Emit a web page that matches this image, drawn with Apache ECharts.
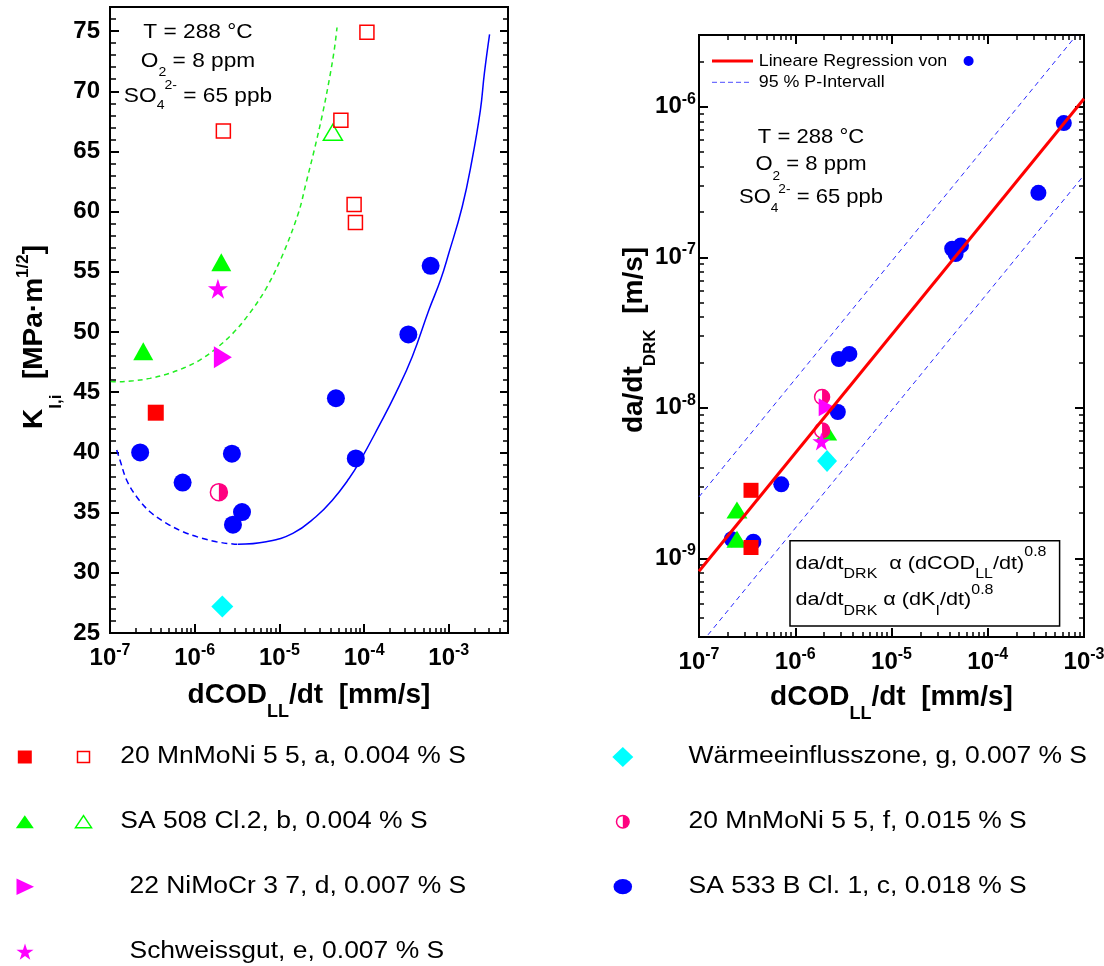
<!DOCTYPE html>
<html><head><meta charset="utf-8">
<script src="https://cdn.jsdelivr.net/npm/echarts@6/dist/echarts.min.js"></script>
<style>html,body{margin:0;padding:0;background:#fff;}#chart{width:1104px;height:966px;}</style>
</head><body><div id="chart"></div>
<script>
// ================= DATA =================
const nameA = '20 MnMoNi 5 5, a, 0.004 % S';
const nameB = 'SA 508 Cl.2, b, 0.004 % S';
const nameD = '22 NiMoCr 3 7, d, 0.007 % S';
const nameE = 'Schweissgut, e, 0.007 % S';
const nameG = 'Wärmeeinflusszone, g, 0.007 % S';
const nameF = '20 MnMoNi 5 5, f, 0.015 % S';
const nameC = 'SA 533 B Cl. 1, c, 0.018 % S';

// Left plot: [dCOD_LL/dt (mm/s), K_I,i (MPa·m^1/2)]
const kiA_filled = [[3.47e-7, 43.3]];
const kiA_open = [[2.18e-6, 66.7], [5.32e-5, 67.6], [7.62e-5, 60.6], [7.9e-5, 59.1], [1.08e-4, 74.9]];
const kiB_filled = [[2.47e-7, 48.4], [2.06e-6, 55.8]];
const kiB_open = [[4.28e-5, 66.6]];
const kiC = [[2.27e-7, 40.0], [7.2e-7, 37.5], [2.75e-6, 39.9], [2.83e-6, 34.0], [3.62e-6, 35.05],
             [4.65e-5, 44.5], [7.98e-5, 39.5], [3.33e-4, 49.8], [6.1e-4, 55.5]];
const kiD = [[2.15e-6, 47.9]];
const kiE = [[1.88e-6, 53.6]];
const kiF = [[1.93e-6, 36.7]];
const kiG = [[2.12e-6, 27.2]];
const curveUpper = [[1.02e-7, 45.9], [1.2e-7, 45.87], [1.88e-7, 45.95], [2.96e-7, 46.15], [4.65e-7, 46.5],
  [7.28e-7, 46.99], [1.15e-6, 47.67], [1.8e-6, 48.65], [2.82e-6, 49.89], [4.44e-6, 51.55], [6.98e-6, 53.63],
  [1.09e-5, 56.4], [1.68e-5, 59.9], [2.06e-5, 62.35], [2.58e-5, 65.12], [3.24e-5, 68.16], [3.87e-5, 70.93],
  [4.44e-5, 73.42], [4.79e-5, 75.3]];
const curveLowerDashed = [[1.2e-7, 40.2], [1.31e-7, 39.37], [1.57e-7, 37.71], [2.06e-7, 36.32], [2.96e-7, 35.07],
  [4.65e-7, 34.11], [7.28e-7, 33.41], [1.15e-6, 32.92], [1.8e-6, 32.58], [2.82e-6, 32.39], [3.24e-6, 32.37]];
const curveLowerSolid = [[3.24e-6, 32.37], [6.98e-6, 32.58], [1.44e-5, 33.28], [2.7e-5, 34.66], [4.24e-5, 36.05],
  [6.67e-5, 37.85], [8.73e-5, 39.15], [1.5e-4, 42.2], [2.36e-4, 44.9], [3.7e-4, 47.95], [5.82e-4, 51.83],
  [7.98e-4, 54.32], [1e-3, 56.54], [1.44e-3, 60.41], [1.88e-3, 64.29], [2.36e-3, 68.44], [2.63e-3, 71.49],
  [3.03e-3, 74.73]];

// Right plot: [dCOD_LL/dt (mm/s), da/dt_DRK (m/s)]
const daA = [[3.47e-7, 2.83e-9], [3.47e-7, 1.18e-9]];
const daB = [[2.48e-7, 2.09e-9], [2.48e-7, 1.34e-9], [2.12e-6, 6.9e-9]];
const daC = [[2.19e-7, 1.34e-9], [3.67e-7, 1.29e-9], [7.16e-7, 3.1e-9], [2.77e-6, 9.38e-9], [2.84e-6, 2.11e-8],
  [3.65e-6, 2.28e-8], [4.27e-5, 1.14e-7], [4.64e-5, 1.05e-7], [5.27e-5, 1.2e-7], [3.36e-4, 2.68e-7], [6.17e-4, 7.8e-7]];
const daD = [[2.12e-6, 1.01e-8]];
const daE = [[1.87e-6, 5.98e-9]];
const daF = [[1.9e-6, 1.18e-8], [1.9e-6, 7.08e-9]];
const daG = [[2.14e-6, 4.44e-9]];
const regression = [[1e-7, 8.2e-10], [1e-3, 1.13e-6]];
const piUpper = [[1e-7, 2.56e-9], [8.1e-4, 2.92e-6]];
const piLower = [[1.24e-7, 3.1e-10], [9.8e-4, 3.46e-7]];

// Axis ranges and tick labels
const leftXRange = [1e-7, 5e-3];
const leftYRange = [25, 77];
const rightXRange = [1e-7, 1e-3];
const rightYRange = [3e-10, 3e-6];
const leftXExp = [-7, -6, -5, -4, -3];
const leftYTicks = [25, 30, 35, 40, 45, 50, 55, 60, 65, 70, 75];
const rightXExp = [-7, -6, -5, -4, -3];
const rightYExp = [-9, -8, -7, -6];

// ================= BUILD =================
const LOG = Math.log10;
const FF = 'Liberation Sans, Arial, Helvetica, sans-serif';
const toL = a => a.map(p => [LOG(p[0]), p[1]]);
const toLL = a => a.map(p => [LOG(p[0]), LOG(p[1])]);
function minorLog(lo, hi) {
  const out = [];
  for (let e = Math.floor(lo) - 1; e <= Math.ceil(hi); e++) {
    for (let k = 2; k <= 9; k++) { const v = LOG(k) + e; if (v > lo + 1e-6 && v < hi - 1e-6) out.push(v); }
  }
  return out;
}
const lxr = leftXRange.map(LOG), rxr = rightXRange.map(LOG), ryr = rightYRange.map(LOG);
const leftYMinor = []; for (let v = leftYRange[0] + 1; v < leftYRange[1]; v++) if (v % 5 !== 0) leftYMinor.push(v);

const RED = '#ff0000', GREEN = '#00ff00', MAG = '#ff00ff', PINK = '#ff0080', CYAN = '#00ffff', BLUE = '#0000ff';

const powRich = {
  b: {fontSize: 24, fontWeight: 'bold', fontFamily: FF, color: '#000', lineHeight: 26},
  s: {fontSize: 16, fontWeight: 'bold', fontFamily: FF, color: '#000', lineHeight: 16, padding: [0, 0, 15, 0]}
};
const powFmt = v => '{b|10}{s|' + Math.round(v) + '}';

function majT(vals, len) { return {show: true, inside: true, length: len || 9, customValues: vals, lineStyle: {color: '#000', width: 2}}; }
function minT(vals, len) { return {show: true, inside: true, length: len || 5, customValues: vals, lineStyle: {color: '#000', width: 1.5}}; }
function ax(extra) {
  return Object.assign({
    type: 'value', splitLine: {show: false},
    axisLine: {show: false, onZero: false},
    axisLabel: {show: false}, axisTick: {show: false}, nameMoveOverlap: false
  }, extra);
}
const lineOn = {show: true, onZero: false, lineStyle: {color: '#000', width: 2}};

const titleRichX = {
  m: {fontSize: 28, fontWeight: 'bold', fontFamily: FF, color: '#000', lineHeight: 30},
  sb: {fontSize: 18, fontWeight: 'bold', fontFamily: FF, color: '#000', lineHeight: 18, padding: [34, 0, 0, 0]}
};

const xAxis = [
  // left grid
  ax({gridIndex: 0, position: 'bottom', min: lxr[0], max: lxr[1], axisLine: lineOn,
      axisTick: majT(leftXExp.slice(), 9),
      axisLabel: {show: true, customValues: leftXExp.slice(), formatter: powFmt, rich: powRich, margin: 12},
      name: '{m|dCOD}{sb|LL}{m|/dt  [mm/s]}', nameLocation: 'middle', nameGap: 47,
      nameTextStyle: {rich: titleRichX}}),
  ax({gridIndex: 0, position: 'bottom', min: lxr[0], max: lxr[1], axisTick: minT(minorLog(lxr[0], lxr[1]), 5)}),
  // right grid
  ax({gridIndex: 1, position: 'bottom', min: rxr[0], max: rxr[1], axisLine: lineOn,
      axisTick: majT(rightXExp.slice(), 9),
      axisLabel: {show: true, customValues: rightXExp.slice(), formatter: powFmt, rich: powRich, margin: 12},
      name: '{m|dCOD}{sb|LL}{m|/dt  [mm/s]}', nameLocation: 'middle', nameGap: 45,
      nameTextStyle: {rich: titleRichX}}),
  ax({gridIndex: 1, position: 'bottom', min: rxr[0], max: rxr[1], axisTick: minT(minorLog(rxr[0], rxr[1]), 5)}),
  ax({gridIndex: 1, position: 'top', min: rxr[0], max: rxr[1], axisTick: majT(rightXExp.slice(), 9)}),
  ax({gridIndex: 1, position: 'top', min: rxr[0], max: rxr[1], axisTick: minT(minorLog(rxr[0], rxr[1]), 5)})
];

const yAxis = [
  // left grid
  ax({gridIndex: 0, position: 'left', min: leftYRange[0], max: leftYRange[1], axisLine: lineOn,
      axisTick: majT(leftYTicks.slice(), 9),
      axisLabel: {show: true, customValues: leftYTicks.slice(), margin: 10, fontSize: 24, fontWeight: 'bold', fontFamily: FF, color: '#000'},
      name: '{m|K}{sb|I,i}{m|  [MPa·m}{sp|1/2}{m|]}', nameLocation: 'middle', nameGap: 61, nameRotate: 90,
      nameTextStyle: {padding: [0, 34, 0, 0], rich: {
        m: {fontSize: 28, fontWeight: 'bold', fontFamily: FF, color: '#000', lineHeight: 30},
        sb: {fontSize: 17, fontWeight: 'bold', fontFamily: FF, color: '#000', lineHeight: 17, padding: [44, 0, 0, 0]},
        sp: {fontSize: 17, fontWeight: 'bold', fontFamily: FF, color: '#000', lineHeight: 17, padding: [0, 0, 21, 0]}
      }}}),
  ax({gridIndex: 0, position: 'left', min: leftYRange[0], max: leftYRange[1], axisTick: minT(leftYMinor, 6)}),
  ax({gridIndex: 0, position: 'right', min: leftYRange[0], max: leftYRange[1], axisTick: majT(leftYTicks.slice(), 8)}),
  ax({gridIndex: 0, position: 'right', min: leftYRange[0], max: leftYRange[1], axisTick: minT(leftYMinor, 5)}),
  // right grid
  ax({gridIndex: 1, position: 'left', min: ryr[0], max: ryr[1], axisLine: lineOn,
      axisTick: majT(rightYExp.slice(), 9),
      axisLabel: {show: true, customValues: rightYExp.slice(), formatter: powFmt, rich: powRich, margin: 3},
      name: '{m|da/dt}{sb|DRK}{m|  [m/s]}', nameLocation: 'middle', nameGap: 50, nameRotate: 90,
      nameTextStyle: {padding: [0, 8, 0, 0], rich: {
        m: {fontSize: 28, fontWeight: 'bold', fontFamily: FF, color: '#000', lineHeight: 30},
        sb: {fontSize: 17, fontWeight: 'bold', fontFamily: FF, color: '#000', lineHeight: 17, padding: [32, 0, 0, 0]}
      }}}),
  ax({gridIndex: 1, position: 'left', min: ryr[0], max: ryr[1], axisTick: minT(minorLog(ryr[0], ryr[1]), 5)}),
  ax({gridIndex: 1, position: 'right', min: ryr[0], max: ryr[1], axisTick: majT(rightYExp.slice(), 9)}),
  ax({gridIndex: 1, position: 'right', min: ryr[0], max: ryr[1], axisTick: minT(minorLog(ryr[0], ryr[1]), 5)})
];

const STAR = 'path://M50,0 L61.23,34.55 L97.55,34.55 L68.16,55.9 L79.39,90.45 L50,69.1 L20.61,90.45 L31.84,55.9 L2.45,34.55 L38.77,34.55 Z';
const HALF = 'path://M0,0 A10,10 0 0,1 0,20 Z';

function sc(name, data, xi, yi, symbol, size, itemStyle, extra) {
  return Object.assign({type: 'scatter', name, data, xAxisIndex: xi, yAxisIndex: yi, symbol, symbolSize: size,
    itemStyle: Object.assign({opacity: 1}, itemStyle), silent: true, z: 3, emphasis: {disabled: true}}, extra || {});
}
function ln(data, xi, yi, lineStyle, z, smooth) {
  return {type: 'line', data, xAxisIndex: xi, yAxisIndex: yi, symbol: 'none', showSymbol: false,
    smooth: smooth || false, lineStyle, silent: true, z: z, emphasis: {disabled: true}};
}
function markerSeries(xi, yi, conv, sets, s) {
  return [
    sc(nameC, conv(sets.C), xi, yi, 'circle', s.circle, {color: BLUE}),
    sc(nameB, conv(sets.B), xi, yi, 'triangle', s.tri, {color: GREEN}),
    sc(nameB + ' (open)', conv(sets.Bo), xi, yi, 'triangle', s.triO, {color: 'rgba(0,0,0,0)', borderColor: GREEN, borderWidth: 1.5}),
    sc(nameA, conv(sets.A), xi, yi, 'rect', s.sq, {color: RED}),
    sc(nameA + ' (open)', conv(sets.Ao), xi, yi, 'rect', s.sqO, {color: 'rgba(0,0,0,0)', borderColor: RED, borderWidth: 1.5}),
    sc(nameF, conv(sets.F), xi, yi, 'circle', s.half, {color: '#fff', borderColor: PINK, borderWidth: 1.5}),
    sc(nameF + ' (half)', conv(sets.F), xi, yi, HALF, [s.half / 2, s.half], {color: PINK}, {symbolOffset: [s.half / 4, 0]}),
    sc(nameD, conv(sets.D), xi, yi, 'triangle', s.rtri, {color: MAG}, {symbolRotate: -90}),
    sc(nameE, conv(sets.E), xi, yi, STAR, s.star, {color: MAG}),
    sc(nameG, conv(sets.G), xi, yi, 'diamond', s.dia, {color: CYAN})
  ];
}

const series = [
  ln(toL(curveUpper), 0, 0, {color: '#22ee22', width: 1.5, type: [5, 4]}, 2, 0.35),
  ln(toL(curveLowerDashed), 0, 0, {color: BLUE, width: 1.5, type: [6, 4]}, 2, 0.35),
  ln(toL(curveLowerSolid), 0, 0, {color: BLUE, width: 1.5}, 2, 0.45),
  ...markerSeries(0, 0, toL, {C: kiC, B: kiB_filled, Bo: kiB_open, A: kiA_filled, Ao: kiA_open, F: kiF, D: kiD, E: kiE, G: kiG},
    {circle: 18, tri: [20, 18], triO: [19, 16], sq: 16, sqO: 14, half: 17, rtri: [22, 18], star: 20, dia: 22}),
  ...markerSeries(2, 4, toLL, {C: daC, B: daB, Bo: [], A: daA, Ao: [], F: daF, D: daD, E: daE, G: daG},
    {circle: 16, tri: [21, 17], triO: [19, 16], sq: 15, sqO: 14, half: 15, rtri: [18, 16], star: 18, dia: [20, 22]}),
  ln(toLL(piUpper), 2, 4, {color: '#2a2aff', width: 1, type: [5, 4]}, 5),
  ln(toLL(piLower), 2, 4, {color: '#2a2aff', width: 1, type: [5, 4]}, 5),
  ln(toLL(regression), 2, 4, {color: RED, width: 3}, 6)
];

// ---------- graphic texts / legend ----------
function T(x, y, text, size, opts) {
  opts = opts || {};
  const al = opts.align || 'left';
  return {type: 'text', x, y, z: 100, scaleX: opts.sx || 1, silent: true,
    style: {text, x: 0, y: 0, fontSize: size, fontFamily: FF, fill: '#000', align: al, textAlign: al,
      verticalAlign: 'middle', textVerticalAlign: 'middle', rich: opts.rich}};
}
function richAnn(sz, sub, subPad, supPad) {
  return {
    m: {fontSize: sz, fontFamily: FF, fill: '#000', color: '#000', lineHeight: sz + 2},
    sb: {fontSize: sub, fontFamily: FF, fill: '#000', color: '#000', lineHeight: sub, padding: [subPad, 0, 0, 0]},
    sp: {fontSize: sub, fontFamily: FF, fill: '#000', color: '#000', lineHeight: sub, padding: [0, 0, supPad, 0]}
  };
}
function starPts(cx, cy, R) {
  const pts = [];
  for (let i = 0; i < 10; i++) {
    const a = (-90 + 36 * i) * Math.PI / 180, r = i % 2 ? R * 0.382 : R;
    pts.push([cx + r * Math.cos(a), cy + r * Math.sin(a)]);
  }
  return pts;
}
const rows = [757, 821.7, 886.7, 951.7];
const LS = 23, LSX = 1.15;
const graphic = [
  // left annotation
  T(198, 32.5, 'T = 288 °C', 21, {align: 'center', sx: 1.08}),
  T(198, 61, '{m|O}{sb|2}{m| = 8 ppm}', 21, {align: 'center', sx: 1.08, rich: richAnn(21, 13, 23, 0)}),
  T(198, 96, '{m|SO}{sb|4}{sp|2-}{m| = 65 ppb}', 21, {align: 'center', sx: 1.08, rich: richAnn(21, 13, 18, 22)}),
  // right annotation
  T(811, 137.5, 'T = 288 °C', 21, {align: 'center', sx: 1.05}),
  T(811, 164, '{m|O}{sb|2}{m| = 8 ppm}', 21, {align: 'center', sx: 1.05, rich: richAnn(21, 13, 24, 0)}),
  T(811, 197.5, '{m|SO}{sb|4}{sp|2-}{m| = 65 ppb}', 21, {align: 'center', sx: 1.05, rich: richAnn(21, 13, 22, 17)}),
  // right inner legend
  {type: 'line', z: 100, silent: true, shape: {x1: 712, y1: 61, x2: 753, y2: 61}, style: {stroke: RED, lineWidth: 3}},
  T(758.7, 61, 'Lineare Regression von', 17, {sx: 1.05}),
  {type: 'circle', z: 100, silent: true, shape: {cx: 968.6, cy: 61, r: 5}, style: {fill: BLUE}},
  {type: 'line', z: 100, silent: true, shape: {x1: 712, y1: 82.3, x2: 749, y2: 82.3}, style: {stroke: '#4d4dff', lineWidth: 1, lineDash: [5, 3]}},
  T(758.7, 82.3, '95 % P-Intervall', 17, {sx: 1.05}),
  // formula box
  {type: 'rect', z: 99, silent: true, shape: {x: 790, y: 540.7, width: 269.6, height: 85.3}, style: {fill: '#fff', stroke: '#000', lineWidth: 1.5}},
  T(795.4, 563.5, '{m|da/dt}{sb|DRK}{m|  α (dCOD}{sb|LL}{m|/dt)}{sp|0.8}', 19, {sx: 1.14, rich: richAnn(19, 14, 22, 22)}),
  T(795.4, 600, '{m|da/dt}{sb|DRK}{m| α (dK}{sb|I}{m|/dt)}{sp|0.8}', 19, {sx: 1.14, rich: richAnn(19, 14, 22, 20)}),
  // bottom legend: left column
  {type: 'rect', z: 100, silent: true, shape: {x: 17.8, y: rows[0] - 6.5, width: 14, height: 13}, style: {fill: RED}},
  {type: 'rect', z: 100, silent: true, shape: {x: 77.5, y: rows[0] - 5.5, width: 12, height: 11}, style: {fill: 'none', stroke: RED, lineWidth: 1.5}},
  T(120.3, rows[0], nameA, LS, {sx: LSX}),
  {type: 'polygon', z: 100, silent: true, shape: {points: [[15.8, rows[1] + 6.5], [33.8, rows[1] + 6.5], [24.8, rows[1] - 6.5]]}, style: {fill: GREEN}},
  {type: 'polygon', z: 100, silent: true, shape: {points: [[75.5, rows[1] + 6], [91.5, rows[1] + 6], [83.5, rows[1] - 6]]}, style: {fill: 'none', stroke: GREEN, lineWidth: 1.5}},
  T(120.3, rows[1], nameB, LS, {sx: LSX}),
  {type: 'polygon', z: 100, silent: true, shape: {points: [[16.5, rows[2] - 8.3], [16.5, rows[2] + 8.3], [34, rows[2]]]}, style: {fill: MAG}},
  T(129.5, rows[2], nameD, LS, {sx: LSX}),
  {type: 'polygon', z: 100, silent: true, shape: {points: starPts(25, rows[3] + 0.8, 9)}, style: {fill: MAG}},
  T(129.5, rows[3], nameE, LS, {sx: LSX}),
  // bottom legend: right column
  {type: 'polygon', z: 100, silent: true, shape: {points: [[612.3, rows[0]], [622.8, rows[0] - 10], [633.3, rows[0]], [622.8, rows[0] + 10]]}, style: {fill: CYAN}},
  T(688.6, rows[0], nameG, LS, {sx: LSX}),
  {type: 'circle', z: 100, silent: true, shape: {cx: 622.8, cy: rows[1], r: 6.3}, style: {fill: '#fff', stroke: PINK, lineWidth: 1.5}},
  {type: 'sector', z: 101, silent: true, shape: {cx: 622.8, cy: rows[1], r0: 0, r: 6.3, startAngle: -Math.PI / 2, endAngle: Math.PI / 2, clockwise: true}, style: {fill: PINK}},
  T(688.6, rows[1], nameF, LS, {sx: LSX}),
  {type: 'circle', z: 100, silent: true, x: 622.8, y: rows[2], scaleX: 1.22, shape: {cx: 0, cy: 0, r: 7.6}, style: {fill: BLUE}},
  T(688.6, rows[2], nameC, LS, {sx: LSX})
];

const option = {
  animation: false,
  backgroundColor: '#fff',
  textStyle: {fontFamily: FF},
  grid: [
    {left: 110, top: 7, width: 398, height: 626, show: true, borderColor: '#000', borderWidth: 2, containLabel: false, outerBoundsMode: 'none'},
    {left: 699, top: 35, width: 385, height: 602, show: true, borderColor: '#000', borderWidth: 2, containLabel: false, outerBoundsMode: 'none'}
  ],
  xAxis, yAxis, series, graphic
};
const chart = echarts.init(document.getElementById('chart'), null, {renderer: 'canvas'});
chart.setOption(option);
</script>
</body></html>
